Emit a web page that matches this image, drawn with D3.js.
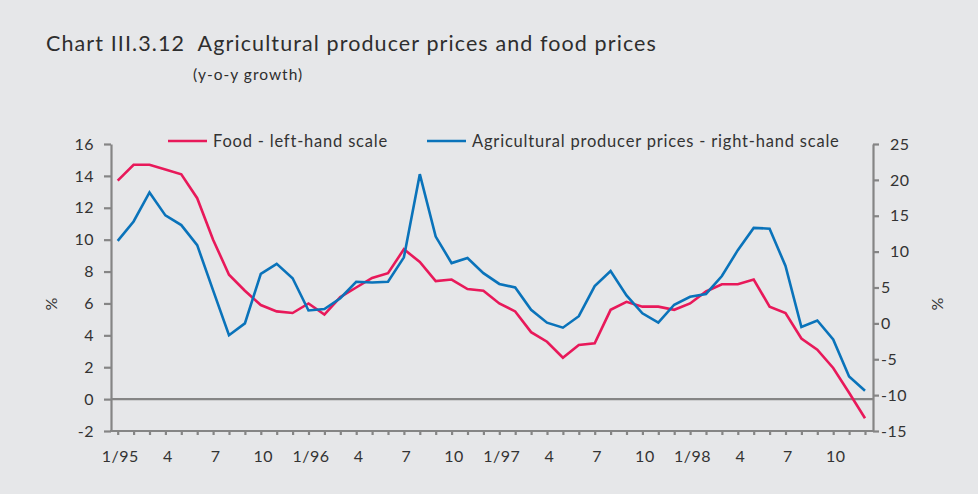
<!DOCTYPE html>
<html>
<head>
<meta charset="utf-8">
<script src="https://cdn.jsdelivr.net/npm/d3@7"></script>
<style>
  html, body { margin: 0; padding: 0; background: #e6e7e9; }
  svg { display: block; font-family: Lato, "Open Sans", sans-serif; }
</style>
</head>
<body>
<svg id="chart" width="978" height="494"></svg>
<script>
// ---- Data ----
const monthLabels = ["1/95","","","4","","","7","","","10","","",
                     "1/96","","","4","","","7","","","10","","",
                     "1/97","","","4","","","7","","","10","","",
                     "1/98","","","4","","","7","","","10","",""];
const food = [13.7,14.7,14.7,14.4,14.1,12.6,10.0,7.8,6.8,5.9,5.5,5.4,
              6.0,5.3,6.4,7.0,7.6,7.9,9.4,8.6,7.4,7.5,6.9,6.8,
              6.0,5.5,4.2,3.6,2.6,3.4,3.5,5.6,6.1,5.8,5.8,5.6,
              6.0,6.75,7.2,7.2,7.5,5.8,5.4,3.8,3.1,1.95,0.4,-1.2];
const agri = [11.5,14.2,18.25,15.05,13.7,10.9,4.6,-1.65,0.0,6.9,8.3,6.3,
              1.8,2.0,3.5,5.8,5.7,5.8,9.2,20.8,12.1,8.4,9.1,7.0,
              5.5,5.0,1.9,0.1,-0.6,1.0,5.2,7.3,3.9,1.4,0.1,2.6,
              3.7,4.1,6.6,10.2,13.3,13.2,8.0,-0.5,0.4,-2.25,-7.4,-9.4];
const leftTicks = [-2,0,2,4,6,8,10,12,14,16];
const rightTicks = [-15,-10,-5,0,5,10,15,20,25];
const seriesNames = ["Food - left-hand scale", "Agricultural producer prices - right-hand scale"];
const titleText = "Chart III.3.12  Agricultural producer prices and food prices";
const subtitleText = "(y-o-y growth)";

// ---- Layout ----
const svg = d3.select("#chart");
const axisColor = "#858585";
const textColor = "#333333";
const redColor = "#e8195a";
const blueColor = "#0a73ba";
const plotLeft = 111, plotRight = 873, plotTop = 144, plotBottom = 431;

const x = d3.scaleLinear().domain([0, food.length - 1]).range([117.7, 865]);
const yL = d3.scaleLinear().domain([-2, 16]).range([plotBottom, plotTop]);
const yR = d3.scaleLinear().domain([-15, 25]).range([plotBottom, plotTop]);

svg.append("rect").attr("width", 978).attr("height", 494).attr("fill", "#e6e7e9");

// Title
svg.append("text").attr("x", 46).attr("y", 51).attr("font-size", 21.5)
  .attr("letter-spacing", 1.1)
  .attr("fill", "#2e2e2e").style("white-space", "pre").text(titleText);
svg.append("text").attr("x", 193).attr("y", 80).attr("font-size", 15.5)
  .attr("letter-spacing", 1.0)
  .attr("fill", "#2e2e2e").text(subtitleText);

function styleAxis(g) {
  g.select(".domain").attr("stroke", axisColor).attr("stroke-width", 2.2);
  g.selectAll(".tick line").attr("stroke", axisColor).attr("stroke-width", 2.2);
  g.selectAll(".tick text").attr("fill", textColor).attr("font-size", 16)
    .attr("font-family", "Lato, 'Open Sans', sans-serif").attr("letter-spacing", 0.5);
}

// Left axis
const gL = svg.append("g").attr("transform", `translate(${plotLeft},0)`)
  .call(d3.axisLeft(yL).tickValues(leftTicks).tickSize(7).tickSizeOuter(0).tickPadding(10)
    .tickFormat(d => String(d)));
styleAxis(gL);

// Right axis
const gR = svg.append("g").attr("transform", `translate(${plotRight},0)`)
  .call(d3.axisRight(yR).tickValues(rightTicks).tickSize(6).tickSizeOuter(0).tickPadding(2)
    .tickFormat(d => String(d)));
styleAxis(gR);
gR.selectAll(".tick text").attr("dx", d => (d >= 10 ? 9 : 0));

// Zero line (left scale)
svg.append("line").attr("x1", plotLeft).attr("x2", plotRight)
  .attr("y1", yL(0)).attr("y2", yL(0))
  .attr("stroke", axisColor).attr("stroke-width", 2.2);

// Bottom axis
svg.append("line").attr("x1", plotLeft - 1).attr("x2", plotRight + 1)
  .attr("y1", plotBottom).attr("y2", plotBottom)
  .attr("stroke", axisColor).attr("stroke-width", 2.2);
const gX = svg.append("g").attr("transform", `translate(0,${plotBottom})`)
  .call(d3.axisBottom(x).tickValues(d3.range(food.length)).tickSize(4).tickPadding(16)
    .tickFormat(i => monthLabels[i]));
gX.select(".domain").remove();
gX.selectAll(".tick line").attr("stroke", axisColor).attr("stroke-width", 2.2);
gX.selectAll(".tick text").attr("fill", textColor).attr("font-size", 16)
  .attr("font-family", "Lato, 'Open Sans', sans-serif").attr("letter-spacing", 0.5).attr("dx", 2);

// "%" labels
svg.append("text").attr("transform", "translate(57,304) rotate(-90)")
  .attr("text-anchor", "middle").attr("font-size", 16).attr("fill", textColor).text("%");
svg.append("text").attr("transform", "translate(943,304) rotate(-90)")
  .attr("text-anchor", "middle").attr("font-size", 16).attr("fill", textColor).text("%");

// Lines
const lineL = d3.line().x((d, i) => x(i)).y(d => yL(d));
const lineR = d3.line().x((d, i) => x(i)).y(d => yR(d));
svg.append("path").datum(food).attr("d", lineL).attr("fill", "none")
  .attr("stroke", redColor).attr("stroke-width", 2.6).attr("stroke-linejoin", "miter");
svg.append("path").datum(agri).attr("d", lineR).attr("fill", "none")
  .attr("stroke", blueColor).attr("stroke-width", 2.6).attr("stroke-linejoin", "miter");

// Legend
const legend = [
  {name: seriesNames[0], color: redColor, x0: 168},
  {name: seriesNames[1], color: blueColor, x0: 427}
];
legend.forEach(l => {
  svg.append("line").attr("x1", l.x0).attr("x2", l.x0 + 39).attr("y1", 141).attr("y2", 141)
    .attr("stroke", l.color).attr("stroke-width", 2.6);
  svg.append("text").attr("x", l.x0 + 45).attr("y", 147).attr("font-size", 16.5)
    .attr("letter-spacing", 0.8)
    .attr("fill", textColor).text(l.name);
});
</script>
</body>
</html>
